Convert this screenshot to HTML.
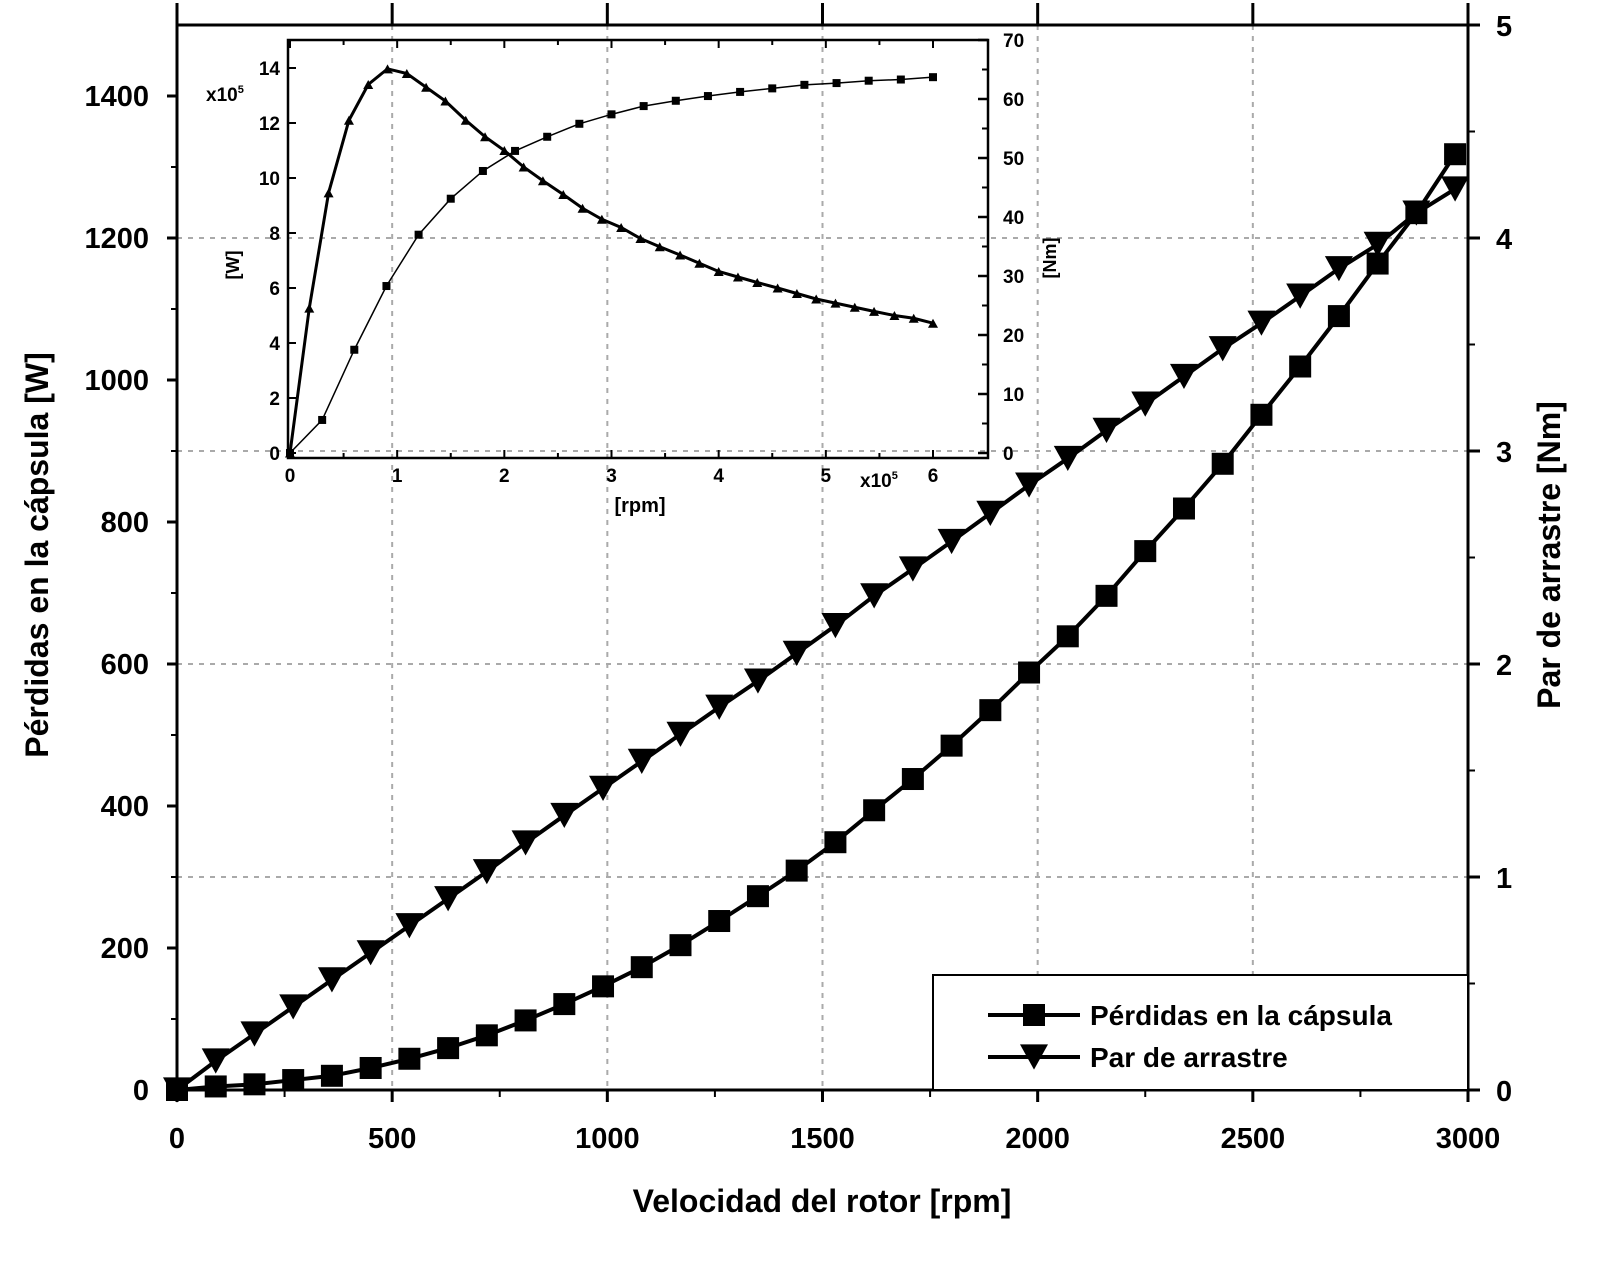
<!DOCTYPE html>
<html><head><meta charset="utf-8"><style>
html,body{margin:0;padding:0;background:#fff}
svg{display:block;font-family:"Liberation Sans",Arial,sans-serif;font-weight:bold}
</style></head><body>
<svg id="chart" width="1604" height="1264" viewBox="0 0 1604 1264" xmlns="http://www.w3.org/2000/svg"></svg>
<script>
// ---- main chart data ----
const mainRpm = [0,90,180,270,360,450,540,630,720,810,900,990,1080,1170,1260,1350,1440,1530,1620,1710,1800,1890,1980,2070,2160,2250,2340,2430,2520,2610,2700,2790,2880,2970];
const lossW = [0,5,8,14,20,31,44,59,77,98,121,146,173,204,238,273,309,349,394,438,485,535,588,639,696,759,819,882,951,1019,1090,1164,1235,1318];
const torqueNm = [0,0.136,0.263,0.39,0.517,0.644,0.771,0.898,1.025,1.16,1.289,1.416,1.543,1.67,1.797,1.92,2.05,2.18,2.32,2.446,2.575,2.707,2.84,2.965,3.097,3.22,3.35,3.48,3.6,3.727,3.856,3.97,4.117,4.23];
const xTicks = [0,500,1000,1500,2000,2500,3000];
const yLeftTicks = [0,200,400,600,800,1000,1200,1400];
const yRightTicks = [0,1,2,3,4,5];
// ---- inset data ----
const insetSqX = [0,0.3,0.6,0.9,1.2,1.5,1.8,2.1,2.4,2.7,3.0,3.3,3.6,3.9,4.2,4.5,4.8,5.1,5.4,5.7,6.0];
const insetSqNm = [0,5.6,17.5,28.3,37,43.1,47.8,51.2,53.6,55.8,57.4,58.8,59.7,60.5,61.2,61.8,62.4,62.7,63.1,63.3,63.7];
const insetTriX = [0,0.18,0.36,0.55,0.73,0.91,1.09,1.27,1.45,1.64,1.82,2.0,2.18,2.36,2.55,2.73,2.91,3.09,3.27,3.45,3.64,3.82,4.0,4.18,4.36,4.55,4.73,4.91,5.09,5.27,5.45,5.64,5.82,6.0];
const insetTriW = [0,5.27,9.46,12.1,13.4,13.97,13.8,13.3,12.8,12.1,11.5,11.0,10.4,9.9,9.4,8.9,8.5,8.2,7.8,7.5,7.2,6.9,6.6,6.4,6.2,6.0,5.8,5.6,5.45,5.3,5.15,5.0,4.9,4.72];
const insetXTicks = [0,1,2,3,4,5,6];
const insetYLeftTicks = [0,2,4,6,8,10,12,14];
const insetYRightTicks = [0,10,20,30,40,50,60,70];

const svg = document.getElementById('chart');
const NS = 'http://www.w3.org/2000/svg';
function mk(tag, attrs, parent){const e=document.createElementNS(NS,tag);for(const k in attrs)e.setAttribute(k,attrs[k]);(parent||svg).appendChild(e);return e;}

const L=177,R=1468,T=25,B=1090;
const xS = v => L + v*(R-L)/3000;
const yW = v => B - v*(B-T)/1500;
const yN = v => B - v*(B-T)/5;

const grid = mk('g',{});


[500,1000,1500,2000,2500].forEach(v=>{mk('line',{x1:xS(v),x2:xS(v),y1:T,y2:B,stroke:'#aaa','stroke-width':2,'stroke-dasharray':'5,6'},grid);});
[1,2,3,4].forEach(v=>{mk('line',{x1:L,x2:R,y1:yN(v),y2:yN(v),stroke:'#aaa','stroke-width':2,'stroke-dasharray':'5,6'},grid);});

const frame = mk('rect',{x:L,y:T,width:R-L,height:B-T,fill:'none',stroke:'#000','stroke-width':3});



xTicks.forEach(v=>{
  mk('line',{x1:xS(v),x2:xS(v),y1:B,y2:B+12,stroke:'#000','stroke-width':3});
  mk('line',{x1:xS(v),x2:xS(v),y1:T,y2:T-22,stroke:'#000','stroke-width':3});
  const t=mk('text',{x:xS(v),y:B+58,'text-anchor':'middle','font-size':29});t.textContent=v;
  
  
});
for(let v=250;v<3000;v+=500){mk('line',{x1:xS(v),x2:xS(v),y1:B,y2:B+7,stroke:'#000','stroke-width':2});}
yLeftTicks.forEach(v=>{
  mk('line',{x1:L-10,x2:L,y1:yW(v),y2:yW(v),stroke:'#000','stroke-width':3});
  const t=mk('text',{x:L-28,y:yW(v)+10,'text-anchor':'end','font-size':29});t.textContent=v;
  
  
});
for(let v=100;v<1500;v+=200){mk('line',{x1:L-6,x2:L,y1:yW(v),y2:yW(v),stroke:'#000','stroke-width':2});}
yRightTicks.forEach(v=>{
  mk('line',{x1:R,x2:R+12,y1:yN(v),y2:yN(v),stroke:'#000','stroke-width':3});
  const t=mk('text',{x:R+28,y:yN(v)+11,'text-anchor':'start','font-size':29});t.textContent=v;
  
  
});
for(let v=0.5;v<5;v+=1){mk('line',{x1:R,x2:R+7,y1:yN(v),y2:yN(v),stroke:'#000','stroke-width':2});}

let tt=mk('text',{x:822,y:1212,'text-anchor':'middle','font-size':32});tt.textContent='Velocidad del rotor [rpm]';


tt=mk('text',{x:0,y:0,'text-anchor':'middle','font-size':32,transform:'translate(48,555) rotate(-90)'});tt.textContent='Pérdidas en la cápsula [W]';


tt=mk('text',{x:0,y:0,'text-anchor':'middle','font-size':32,transform:'translate(1560,555) rotate(-90)'});tt.textContent='Par de arrastre [Nm]';



function sq(cx,cy,s,parent,name){const r=mk('rect',{x:cx-s/2,y:cy-s/2,width:s,height:s,fill:'#000'},parent);return r;}
function tri(cx,cy,s,down,parent,name){const h=s*0.9;const p=down?`${cx-s/2},${cy-h/2} ${cx+s/2},${cy-h/2} ${cx},${cy+h/2}`:`${cx-s/2},${cy+h/2} ${cx+s/2},${cy+h/2} ${cx},${cy-h/2}`;const e=mk('polygon',{points:p,fill:'#000'},parent);return e;}

const lossG=mk('g',{});


mk('polyline',{points:mainRpm.map((r,i)=>xS(r)+','+yW(lossW[i])).join(' '),fill:'none',stroke:'#000','stroke-width':4},lossG);
mainRpm.forEach((r,i)=>sq(xS(r),yW(lossW[i]),22,lossG,'loss-point'));

const torG=mk('g',{});


mk('polyline',{points:mainRpm.map((r,i)=>xS(r)+','+yN(torqueNm[i])).join(' '),fill:'none',stroke:'#000','stroke-width':4},torG);
mainRpm.forEach((r,i)=>tri(xS(r),yN(torqueNm[i]),28,true,torG,'torque-point'));

const lg=mk('g',{});


mk('rect',{x:933,y:975,width:535,height:115,fill:'#fff',stroke:'#000','stroke-width':2},lg);
mk('line',{x1:988,x2:1080,y1:1015,y2:1015,stroke:'#000','stroke-width':4},lg);
sq(1034,1015,22,lg,'legend-marker-losses');
let lt=mk('text',{x:1090,y:1025,'font-size':28},lg);lt.textContent='Pérdidas en la cápsula';


mk('line',{x1:988,x2:1080,y1:1057,y2:1057,stroke:'#000','stroke-width':4},lg);
tri(1034,1057,28,true,lg,'legend-marker-torque');
lt=mk('text',{x:1090,y:1067,'font-size':28},lg);lt.textContent='Par de arrastre';



const iL=290,iR=988,iT=40,iB=458;
const ix = v => iL + v*(933-iL)/6;
const iyW = v => 453 - v*(453-68)/14;
const iyN = v => 453 - v*(453-40)/70;
const ins=mk('g',{});


mk('rect',{x:iL-2,y:iT,width:iR-iL+2,height:iB-iT,fill:'none',stroke:'#000','stroke-width':2.5},ins);
insetXTicks.forEach(v=>{
  mk('line',{x1:ix(v),x2:ix(v),y1:iB,y2:iB-8,stroke:'#000','stroke-width':2},ins);
  mk('line',{x1:ix(v),x2:ix(v),y1:iT,y2:iT+8,stroke:'#000','stroke-width':2},ins);
  const t=mk('text',{x:ix(v),y:iB+24,'text-anchor':'middle','font-size':19},ins);t.textContent=v;
  
  
});
for(let v=0.5;v<6.5;v+=1){mk('line',{x1:ix(v),x2:ix(v),y1:iB,y2:iB-5,stroke:'#000','stroke-width':2},ins);mk('line',{x1:ix(v),x2:ix(v),y1:iT,y2:iT+5,stroke:'#000','stroke-width':2},ins);}
insetYLeftTicks.forEach(v=>{
  mk('line',{x1:iL-2,x2:iL+6,y1:iyW(v),y2:iyW(v),stroke:'#000','stroke-width':2},ins);
  const t=mk('text',{x:iL-10,y:iyW(v)+7,'text-anchor':'end','font-size':19},ins);t.textContent=v;
  
  
});
insetYRightTicks.forEach(v=>{
  mk('line',{x1:iR-10,x2:iR,y1:iyN(v),y2:iyN(v),stroke:'#000','stroke-width':2.5},ins);
  const t=mk('text',{x:iR+15,y:iyN(v)+7,'text-anchor':'start','font-size':19},ins);t.textContent=v;
  
  
});
for(let v=5;v<70;v+=10){mk('line',{x1:iR-6,x2:iR,y1:iyN(v),y2:iyN(v),stroke:'#000','stroke-width':2},ins);}
let it=mk('text',{x:640,y:512,'text-anchor':'middle','font-size':20},ins);it.textContent='[rpm]';


it=mk('text',{x:860,y:487,'font-size':19},ins);it.innerHTML='x10<tspan font-size="11" dy="-8">5</tspan>';


it=mk('text',{x:206,y:101,'font-size':19},ins);it.innerHTML='x10<tspan font-size="11" dy="-8">5</tspan>';


it=mk('text',{x:0,y:0,'text-anchor':'middle','font-size':18,transform:'translate(239,265) rotate(-90)'},ins);it.textContent='[W]';


it=mk('text',{x:0,y:0,'text-anchor':'middle','font-size':18,transform:'translate(1056,258) rotate(-90)'},ins);it.textContent='[Nm]';



const iSq=mk('g',{},ins);


mk('polyline',{points:insetSqX.map((v,i)=>ix(v)+','+iyN(insetSqNm[i])).join(' '),fill:'none',stroke:'#000','stroke-width':1.5},iSq);
insetSqX.forEach((v,i)=>sq(ix(v),iyN(insetSqNm[i]),8,iSq,'inset-torque-point'));
const iTr=mk('g',{},ins);


mk('polyline',{points:insetTriX.map((v,i)=>ix(v)+','+iyW(insetTriW[i])).join(' '),fill:'none',stroke:'#000','stroke-width':3},iTr);
insetTriX.forEach((v,i)=>tri(ix(v),iyW(insetTriW[i]),10,false,iTr,'inset-power-point'));
</script>
</body></html>
